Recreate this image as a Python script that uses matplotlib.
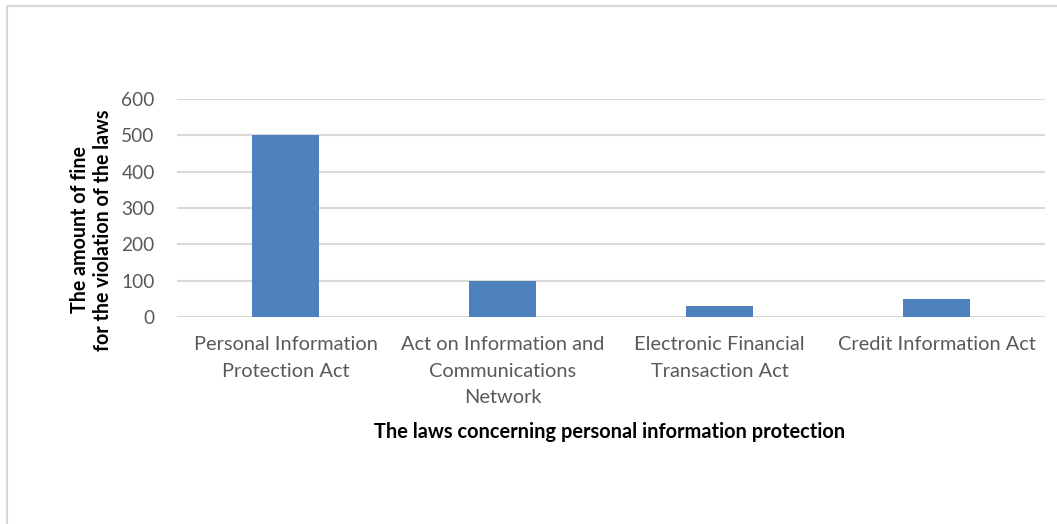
from matplotlib import pyplot as plt
from matplotlib.patches import Rectangle

# Données
LOIS = ["Personal Information\nProtection Act",
        "Act on Information and\nCommunications\nNetwork",
        "Electronic Financial\nTransaction Act",
        "Credit Information Act"]
AMENDES = [500, 100, 30, 50]
GRADUATIONS = [0, 100, 200, 300, 400, 500, 600]

BLEU = "#4f81bd"
GRIS_TEXTE = "#595959"
GRIS_GRILLE = "#d9d9d9"

plt.rcParams['font.family'] = ['Lato', 'DejaVu Sans']

W, H = 1057, 524
fig = plt.figure(figsize=(W / 100, H / 100), dpi=100)

# cadre du graphique (bords gauche et haut visibles)
fig.patches.append(Rectangle((7 / W, -0.1), 1.2, 1 - 6 / H + 0.1, transform=fig.transFigure,
                             fill=False, edgecolor=GRIS_GRILLE, linewidth=1.5))

ax = fig.add_axes([177 / W, 1 - 317 / H, (1045 - 177) / W, (317 - 99) / H])
x = range(len(LOIS))
ax.bar(x, AMENDES, width=0.31, color=BLEU, zorder=3)
ax.set_xlim(-0.5, len(LOIS) - 0.5)
ax.set_ylim(0, 600)
ax.set_yticks(GRADUATIONS)
ax.set_xticks(list(x))
ax.set_xticklabels(LOIS, linespacing=1.65, fontsize=14.4)
ax.grid(axis="y", color=GRIS_GRILLE, linewidth=1.5, zorder=0)
for s in ax.spines.values():
    s.set_visible(False)
ax.tick_params(axis="both", length=0, labelcolor=GRIS_TEXTE)
ax.tick_params(axis="y", pad=16, labelsize=13.8)
ax.tick_params(axis="x", pad=14)

# titre de l'axe y sur deux lignes
fig.text(80 / W, 1 - 230 / H, "The amount of fine", rotation=90,
         ha="center", va="center", fontsize=14.1, fontweight="bold")
fig.text(103 / W, 1 - 230 / H, "for the violation of the laws", rotation=90,
         ha="center", va="center", fontsize=14.1, fontweight="bold")
fig.text(610 / W, 1 - 432 / H, "The laws concerning personal information protection",
         ha="center", va="center", fontsize=14.4, fontweight="bold")

fig.savefig("out.png", dpi=100)
